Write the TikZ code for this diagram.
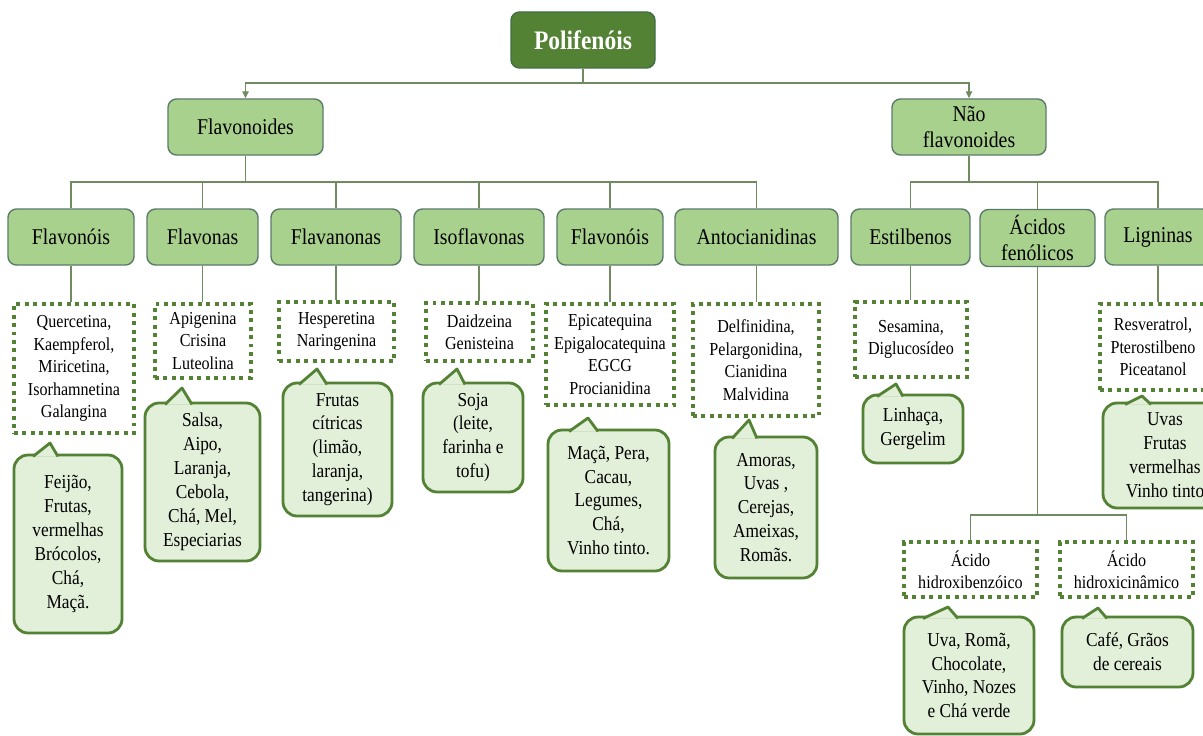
\documentclass[tikz,border=0pt]{standalone}
\usepackage{fontspec}
\setmainfont[FakeStretch=0.88]{Liberation Serif}
\usetikzlibrary{calc}
\usetikzlibrary{arrows.meta}

\definecolor{rootfill}{HTML}{548235}
\definecolor{rootline}{HTML}{426E45}
\definecolor{boxfill}{HTML}{A9D18E}
\definecolor{boxline}{HTML}{5B7B6A}
\definecolor{connline}{HTML}{6F8B5F}
\definecolor{dotline}{HTML}{548235}
\definecolor{foodfill}{HTML}{E2EFD9}

\newcommand{\pxl}{0.025cm}

\tikzset{
  wh/.style 2 args={minimum width=#1*\pxl, minimum height=#2*\pxl},
  rootbox/.style={draw=rootline, fill=rootfill, line width=1pt, rounded corners=6pt,
    inner sep=0pt, text=white, font=\rmfamily\fontsize{19}{22}\selectfont\bfseries},
  groupbox/.style={draw=boxline, fill=boxfill, line width=1pt, rounded corners=6pt,
    inner sep=0pt, align=center, font=\rmfamily\fontsize{16}{18.5}\selectfont},
  listbox/.style={draw=dotline, line width=2.5pt, dash pattern=on 2.8pt off 3.2pt,
    inner sep=0pt, align=center, font=\rmfamily\fontsize{13}{16}\selectfont},
  foodbox/.style={draw=dotline, fill=foodfill, line width=2pt, rounded corners=10pt,
    inner sep=0pt, align=center, font=\rmfamily\fontsize{14}{17}\selectfont},
  tail/.style={draw=dotline, fill=foodfill, line width=2pt, line join=round},
  conn/.style={draw=connline, line width=1pt},
  arr/.style={conn, -{Triangle[length=5pt,width=4.5pt]}, connline},
}

\begin{document}
\begin{tikzpicture}[x=0.025cm,y=-0.025cm]
    \useasboundingbox (0,0) rectangle (1203,736);
    \clip (0,0) rectangle (1203,736);
    \fill[white] (0,0) rectangle (1203,736);

    % top levels
    \node[rootbox, wh={144}{56}] (pol) at (583,40) {Polifenóis};
    \node[groupbox, wh={155}{56}] (flavo) at (245.5,127) {Flavonoides};
    \node[groupbox, wh={154}{56}] (nao) at (969,127) {Não\\flavonoides};

    % classes
    \node[groupbox, wh={126}{56}] (flavonois) at (71,237) {Flavonóis};
    \node[groupbox, wh={111}{56}] (flavonas) at (202.5,237) {Flavonas};
    \node[groupbox, wh={130}{56}] (flavanonas) at (336,237) {Flavanonas};
    \node[groupbox, wh={130}{56}] (isoflav) at (479,237) {Isoflavonas};
    \node[groupbox, wh={106}{56}] (flavanois) at (610,237) {Flavonóis};
    \node[groupbox, wh={163}{56}] (antoc) at (756.5,237) {Antocianidinas};
    \node[groupbox, wh={119}{56}] (estilb) at (910.5,237) {Estilbenos};
    \node[groupbox, wh={115}{57}] (acidos) at (1037.5,238) {Ácidos\\fenólicos};
    \node[groupbox, wh={106}{56}] (lignin) at (1158,237) {Ligninas};

    % compounds
    \node[listbox, wh={120}{129}] (L1) at (74,368.5)
      {Quercetina,\\Kaempferol,\\Miricetina,\\Isorhamnetina\\Galangina};
    \node[listbox, wh={96}{74}] (L2) at (203,341) {Apigenina\\Crisina\\Luteolina};
    \node[listbox, wh={115}{59}] (L3) at (336.5,331.5) {Hesperetina\\Naringenina};
    \node[listbox, wh={107}{58}] (L4) at (479.5,332) {Daidzeina\\Genisteina};
    \node[listbox, wh={128}{101}] (L5) at (610,354.5)
      {Epicatequina\\Epigalocatequina\\EGCG\\Procianidina};
    \node[listbox, wh={126}{112}] (L6) at (756,360)
      {Delfinidina,\\Pelargonidina,\\Cianidina\\Malvidina};
    \node[listbox, wh={112}{75}] (L7) at (911,339.5) {Sesamina,\\Diglucosídeo};
    \node[listbox, wh={106}{86}] (L8) at (1153,347)
      {Resveratrol,\\Pterostilbeno\\Piceatanol};
    \node[listbox, wh={133}{55}] (L9) at (970.5,569.5) {Ácido\\hidroxibenzóico};
    \node[listbox, wh={133}{55}] (L10) at (1126.5,569.5) {Ácido\\hidroxicinâmico};

    % food sources
    \node[foodbox, wh={108}{178}] (F1) at (68,544)
      {Feijão,\\Frutas,\\vermelhas\\Brócolos,\\Chá,\\Maçã.};
    \filldraw[tail] (33,456.5) -- (50,443) -- (58,456.5);
    \node[foodbox, wh={115}{158}] (F2) at (202.5,482)
      {Salsa,\\Aipo,\\Laranja,\\Cebola,\\Chá, Mel,\\Especiarias};
    \filldraw[tail] (165,404.5) -- (182,388) -- (192,404.5);
    \node[foodbox, wh={109}{133}] (F3) at (337.5,449.5)
      {Frutas\\cítricas\\(limão,\\laranja,\\tangerina)};
    \filldraw[tail] (299,384.5) -- (317,369) -- (327,384.5);
    \node[foodbox, wh={100}{109}] (F4) at (473,437.5)
      {Soja\\(leite,\\farinha e\\tofu)};
    \filldraw[tail] (439,384.5) -- (457,369) -- (465,384.5);
    \node[foodbox, wh={121}{141}] (F5) at (608.5,500.5)
      {Maçã, Pera,\\Cacau,\\Legumes,\\Chá,\\Vinho tinto.};
    \filldraw[tail] (569,431.5) -- (588,418) -- (598,431.5);
    \node[foodbox, wh={102}{141}] (F6) at (766,507.5)
      {Amoras,\\Uvas ,\\Cerejas,\\Ameixas,\\Romãs.};
    \filldraw[tail] (732,438.5) -- (749,420) -- (757,438.5);
    \node[foodbox, wh={100}{68}] (F7) at (913,429) {Linhaça,\\Gergelim};
    \filldraw[tail] (877,396.5) -- (896,384) -- (903,396.5);
    \node[foodbox, wh={124}{105}] (F8) at (1165,455.5)
      {Uvas\\Frutas\\vermelhas\\Vinho tinto};
    \filldraw[tail] (1125,404.5) -- (1142,396) -- (1151,404.5);
    \node[foodbox, wh={130}{117}] (F9) at (969,675.5)
      {Uva, Romã,\\Chocolate,\\Vinho, Nozes\\e Chá verde};
    \filldraw[tail] (923,618.5) -- (948,607) -- (958,618.5);
    \node[foodbox, wh={131}{70}] (F10) at (1127.5,652) {Café, Grãos\\de cereais};
    \filldraw[tail] (1082,618.5) -- (1098,608) -- (1107,618.5);

    % connectors
    \coordinate (barP) at (583,83);
    \coordinate (barF) at (245.5,182);
    \coordinate (barN) at (969,182);
    \coordinate (barA) at (1037.5,515);
    \draw[arr] (pol.south) -- (barP) -| (flavo.north);
    \draw[arr] (pol.south) -- (barP) -| (nao.north);
    \foreach \c in {flavonois,flavonas,flavanonas,isoflav,flavanois,antoc}
      \draw[conn] (flavo.south) -- (barF) -| (\c.north);
    \foreach \c in {estilb,acidos,lignin}
      \draw[conn] (nao.south) -- (barN) -| (\c.north);
    \draw[conn] (flavonois.south) -- (flavonois.south |- L1.north);
    \draw[conn] (flavonas.south) -- (flavonas.south |- L2.north);
    \draw[conn] (flavanonas.south) -- (flavanonas.south |- L3.north);
    \draw[conn] (isoflav.south) -- (isoflav.south |- L4.north);
    \draw[conn] (flavanois.south) -- (flavanois.south |- L5.north);
    \draw[conn] (antoc.south) -- (antoc.south |- L6.north);
    \draw[conn] (estilb.south) -- (estilb.south |- L7.north);
    \draw[conn] (lignin.south) -- (lignin.south |- L8.north);
    \draw[conn] (acidos.south) -- (barA) -| (L9.north);
    \draw[conn] (acidos.south) -- (barA) -| (L10.north);
\end{tikzpicture}
\end{document}
